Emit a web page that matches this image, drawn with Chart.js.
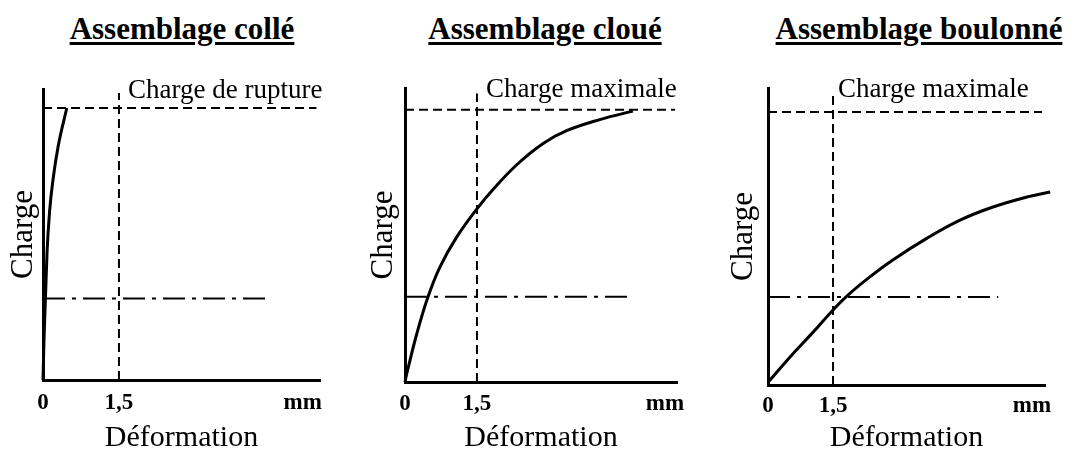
<!DOCTYPE html>
<html lang="fr">
<head>
<meta charset="utf-8">
<title>Assemblages : charge / déformation</title>
<script src="https://cdn.jsdelivr.net/npm/chart.js@4.4.1/dist/chart.umd.min.js"></script>
<style>
  body { margin: 0; background: #fff; }
  #wrap { position: relative; width: 1075px; height: 454px; overflow: hidden;
          font-family: 'Liberation Serif', 'Times New Roman', serif; }
  canvas { position: absolute; top: 0; }
  .titre { position: absolute; top: 11px; font-weight: bold; font-size: 31px; white-space: nowrap;
           text-decoration: underline; text-decoration-thickness: 3px; text-underline-offset: 3px;
           transform: translateX(-50%); }
</style>
</head>
<body>
<div id="wrap">
  <div class="titre" style="left:182px">Assemblage collé</div>
  <div class="titre" style="left:545px">Assemblage cloué</div>
  <div class="titre" style="left:919px">Assemblage boulonné</div>
  <canvas id="c0" width="358" height="454" style="left:0px"></canvas>
  <canvas id="c1" width="360" height="454" style="left:358px"></canvas>
  <canvas id="c2" width="357" height="454" style="left:718px"></canvas>
</div>
<script>
// deformation in mm, charge in % of the max load (top dashed line = 100)
const colleDef = [0, 0.02, 0.05, 0.08, 0.13, 0.2, 0.3, 0.47];
const colleCharge = [0, 15, 31, 47, 62, 74, 86, 100];

const cloueDef = [0, 0.04, 0.25, 0.48, 0.73, 1.08, 1.5, 1.83, 2.33, 2.88, 3.38, 4.06, 4.75];
const cloueCharge = [0, 3.3, 18, 31.3, 42.3, 53.3, 63.6, 70.6, 79.8, 87.6, 92.4, 96.4, 99.5];

const boulonDef = [0, 0.51, 1.02, 1.5, 1.82, 2.35, 2.88, 3.67, 4.43, 5.19, 5.98, 6.51];
const boulonCharge = [1, 10.3, 19, 27.5, 32.6, 39.6, 45.8, 53.8, 60.4, 65.2, 68.9, 70.7];

const deformationRef = 1.5;
const chargeMax = 100;
const chargeService = [30, 31.3, 32.2];
const finService = [4.52, 4.73, 5.31];
const finMax = [5.4, 5.63, 6.32];
const xMax = [5.47, 5.67, 6.39];
const yMax = [107, 108, 108.8];
const hautRef = [105.5, 106, 106.5];
const posMm = [5.13, 5.42, 6.09];
const tickLabels = ['0', '1,5', 'mm'];
const etiquettes = ['Charge de rupture', 'Charge maximale', 'Charge maximale'];

// layout of each canvas (px)
const layouts = [
  { axeY: 43, droite: 38, haut: 89, axeX: 74, titreY: 8, lab: 9, pad: 9, lisse: 'monotone' },
  { axeY: 47, droite: 41, haut: 88, axeX: 72, titreY: 10, lab: 9, pad: 8, lisse: 'default' },
  { axeY: 50, droite: 30, haut: 88, axeX: 69, titreY: 10, lab: 5, pad: 7, lisse: 'default' }
];

const FONT = "'Liberation Serif', 'Times New Roman', serif";
Chart.defaults.font.family = FONT;
Chart.defaults.color = '#000';

const etiquettePlugin = {
    id: 'etiquette',
    afterDraw(chart, args, opts) {
        const ctx = chart.ctx;
        const x = chart.scales.x;
        ctx.save();
        ctx.font = '27px ' + FONT;
        ctx.fillStyle = '#000';
        ctx.textBaseline = 'alphabetic';
        ctx.fillText(opts.text, x.getPixelForValue(deformationRef) + opts.dx, chart.chartArea.top + 9);
        ctx.restore();
    }
};

function points(xs, ys) {
    return xs.map((v, i) => ({ x: v, y: ys[i] }));
}

function makeChart(i, defs, charges) {
    const lay = layouts[i];
    const ctx = document.getElementById('c' + i).getContext('2d');
    const ticksVals = [0, deformationRef, posMm[i]];

    return new Chart(ctx, {
        type: 'scatter',
        data: {
            datasets: [
                {
                    data: [{ x: deformationRef, y: 0 }, { x: deformationRef, y: hautRef[i] }],
                    borderColor: '#000', borderWidth: 2, borderDash: [9, 5]
                },
                {
                    data: [{ x: 0, y: chargeMax }, { x: finMax[i], y: chargeMax }],
                    borderColor: '#000', borderWidth: 2, borderDash: [9, 5]
                },
                {
                    data: [{ x: 0, y: chargeService[i] }, { x: finService[i], y: chargeService[i] }],
                    borderColor: '#000', borderWidth: 2, borderDash: [22, 7, 4, 7]
                },
                {
                    data: points(defs, charges),
                    borderColor: '#000', borderWidth: 3,
                    cubicInterpolationMode: lay.lisse, tension: 0.4, clip: false
                }
            ]
        },
        options: {
            responsive: false,
            devicePixelRatio: 1,
            animation: false,
            showLine: true,
            elements: { point: { radius: 0, hoverRadius: 0 } },
            layout: { padding: { left: 0, top: lay.haut, right: lay.droite, bottom: 0 } },
            plugins: {
                legend: { display: false },
                tooltip: { enabled: false },
                etiquette: { text: etiquettes[i], dx: lay.lab }
            },
            scales: {
                x: {
                    type: 'linear', min: 0, max: xMax[i],
                    grid: { display: false, drawTicks: false },
                    border: { display: true, width: 3, color: '#000' },
                    afterBuildTicks: s => { s.ticks = ticksVals.map(v => ({ value: v })); },
                    afterFit: s => { s.height = lay.axeX; },
                    ticks: {
                        autoSkip: false, maxRotation: 0, padding: lay.pad,
                        font: { size: 23, weight: 'bold' },
                        callback: (v, idx) => tickLabels[idx]
                    },
                    title: {
                        display: true, text: 'Déformation',
                        font: { size: 30, lineHeight: 1 }, padding: { top: 0, bottom: 1 }
                    }
                },
                y: {
                    type: 'linear', min: 0, max: yMax[i],
                    grid: { display: false, drawTicks: false },
                    border: { display: true, width: 3, color: '#000' },
                    ticks: { display: false },
                    afterFit: s => { s.width = lay.axeY; },
                    title: {
                        display: true, text: 'Charge',
                        font: { size: 31, lineHeight: 1 }, padding: { top: lay.titreY, bottom: 0 }
                    }
                }
            }
        },
        plugins: [etiquettePlugin]
    });
}

makeChart(0, colleDef, colleCharge);
makeChart(1, cloueDef, cloueCharge);
makeChart(2, boulonDef, boulonCharge);
</script>
</body>
</html>
